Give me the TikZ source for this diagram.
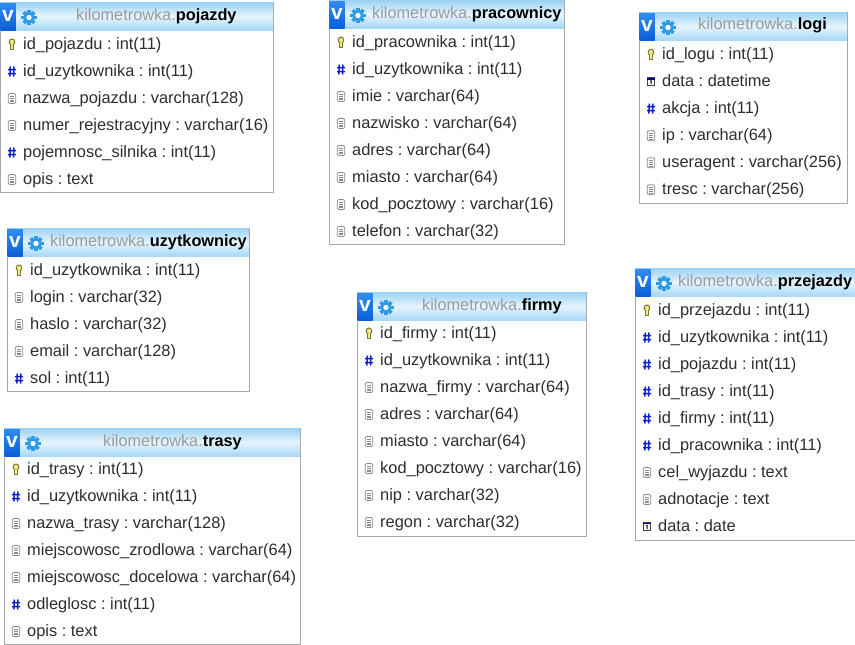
\documentclass[tikz,border=0pt]{standalone}
\usepackage{fontspec}
\setmainfont{Liberation Sans}
\frenchspacing
\definecolor{bordergray}{HTML}{A9A9A9}
\definecolor{titlegray}{HTML}{9C9C9C}
\definecolor{rowtext}{HTML}{2E2E2E}
\definecolor{hdrtop}{HTML}{9CD2F4}
\definecolor{hdrmid}{HTML}{E6F5FD}
\definecolor{hdrbot}{HTML}{A6D8F8}
\definecolor{vtop}{HTML}{2F8CF0}
\definecolor{vbot}{HTML}{0A5FD8}
\definecolor{gearblue}{HTML}{2E9BE6}
\definecolor{keyolive}{HTML}{7F7A2A}
\definecolor{keyfill}{HTML}{F0E68C}
\definecolor{hashblue}{HTML}{1020D0}
\definecolor{docgray}{HTML}{8A8A8A}
\tikzset{
  tablebox/.style={draw=bordergray,line width=1pt,fill=white},
  headerbar/.style={top color=hdrtop,bottom color=hdrbot,middle color=hdrmid},
  vbox/.style={top color=vtop,bottom color=vbot,draw=none},
  vlabel/.style={text=white,font=\fontsize{21}{21}\selectfont\bfseries,inner sep=0pt},
  titletext/.style={anchor=base west,inner sep=0pt,font=\fontsize{16.3}{16.3}\selectfont,text=titlegray},
  rowlabel/.style={anchor=base west,inner sep=0pt,font=\fontsize{16.4}{16.4}\selectfont,text=rowtext},
}
% icons, drawn around the current origin
\newcommand{\iconkey}{%
  \draw[keyolive,line width=1pt,fill=keyfill] (0,-2) ellipse (2.8 and 3);
  \fill[keyolive] (-1.8,0) rectangle (1.8,5.5);
  \fill[keyfill] (-.7,0) rectangle (.7,4.5);}
\newcommand{\iconhash}{%
  \draw[hashblue,line width=1.5pt] (-1.7,-4.5) -- (-2.1,5.5) (1.9,-4.5) -- (1.5,5.5)
    (-4,-1.5) -- (4,-1.5) (-4,2.5) -- (4,2.5);}
\newcommand{\icondoc}{%
  \draw[docgray,line width=.8pt,fill=white,rounded corners=2pt] (-3.8,-4.5) rectangle (3.8,5.5);
  \draw[docgray,line width=.7pt] (-2,-2) -- (2,-2) (-2,0) -- (2,0) (-2,2) -- (2,2) (-2,3.8) -- (2,3.8);}
\newcommand{\iconcal}{%
  \draw[black!75,line width=.9pt,fill=white] (-3.6,-3.4) rectangle (3.6,4.6);
  \fill[blue!60!black] (-3.6,-3.4) rectangle (3.6,-1.6);
  \draw[black,line width=1pt] (-.7,0) -- (.2,-.6) -- (.2,3);}
\newcommand{\icongear}{%
  \foreach \a in {0,45,...,315}{\fill[gearblue,rotate=\a] (-1.8,-7.6) rectangle (1.8,-4);}
  \fill[gearblue] (0,0) circle (5.6);
  \fill[white!70!hdrmid] (0,0) circle (2.7);}
% #1 name, #2 left, #3 top, #4 right, #5 bottom, #6 title x, #7 short name, #8 first row y, #9 rows
\newcommand{\dbtable}[9]{%
  \draw[tablebox] (#2-.5,#3) rectangle (#4+.3,#5);
  \path[headerbar] (#2,#3+.5) rectangle (#4-.2,#3+28);
  \path[vbox] (#2-.5,#3+1) rectangle (#2+14.5,#3+28);
  \node[vlabel] (#1v) at (#2+7,#3+14) {v};
  \begin{scope}[shift={(#2+28,#3+15.5)}]\icongear\end{scope}
  \node[titletext] (#1title) at (#6,#3+18) {kilometrowka.\textcolor{black}{\bfseries #7}};
  \foreach \ty/\tx [count=\i from 0] in {#9}{
    \begin{scope}[shift={(#2+11,#8+\i*27+.5)}]
      \csname icon\ty\endcsname
    \end{scope}
    \node[rowlabel] (#1row\i) at (#2+22,#8+\i*27+5.7) {\tx};
  }%
}
\begin{document}
\begin{tikzpicture}[x=1pt,y=-1pt]
\useasboundingbox (0,0) rectangle (855,645);
\dbtable{pojazdy}{1}{2}{273}{192}{76}{pojazdy}{43.5}{%
  key/{id\_pojazdu : int(11)},hash/{id\_uzytkownika : int(11)},doc/{nazwa\_pojazdu : varchar(128)},doc/{numer\_rejestracyjny : varchar(16)},hash/{pojemnosc\_silnika : int(11)},doc/{opis : text}}
\dbtable{pracownicy}{330}{0}{564}{244}{372}{pracownicy}{41.5}{%
  key/{id\_pracownika : int(11)},hash/{id\_uzytkownika : int(11)},doc/{imie : varchar(64)},doc/{nazwisko : varchar(64)},doc/{adres : varchar(64)},doc/{miasto : varchar(64)},doc/{kod\_pocztowy : varchar(16)},doc/{telefon : varchar(32)}}
\dbtable{logi}{640}{12}{847}{203}{698}{logi}{53.7}{%
  key/{id\_logu : int(11)},cal/{data : datetime},hash/{akcja : int(11)},doc/{ip : varchar(64)},doc/{useragent : varchar(256)},doc/{tresc : varchar(256)}}
\dbtable{uzytkownicy}{8}{228}{249}{391}{50}{uzytkownicy}{269.5}{%
  key/{id\_uzytkownika : int(11)},doc/{login : varchar(32)},doc/{haslo : varchar(32)},doc/{email : varchar(128)},hash/{sol : int(11)}}
\dbtable{firmy}{358}{292}{586}{536}{422}{firmy}{332.5}{%
  key/{id\_firmy : int(11)},hash/{id\_uzytkownika : int(11)},doc/{nazwa\_firmy : varchar(64)},doc/{adres : varchar(64)},doc/{miasto : varchar(64)},doc/{kod\_pocztowy : varchar(16)},doc/{nip : varchar(32)},doc/{regon : varchar(32)}}
\dbtable{przejazdy}{636}{268}{855}{540}{678}{przejazdy}{309.5}{%
  key/{id\_przejazdu : int(11)},hash/{id\_uzytkownika : int(11)},hash/{id\_pojazdu : int(11)},hash/{id\_trasy : int(11)},hash/{id\_firmy : int(11)},hash/{id\_pracownika : int(11)},doc/{cel\_wyjazdu : text},doc/{adnotacje : text},cal/{data : date}}
\dbtable{trasy}{5}{428}{300}{644}{103}{trasy}{468.5}{%
  key/{id\_trasy : int(11)},hash/{id\_uzytkownika : int(11)},doc/{nazwa\_trasy : varchar(128)},doc/{miejscowosc\_zrodlowa : varchar(64)},doc/{miejscowosc\_docelowa : varchar(64)},hash/{odleglosc : int(11)},doc/{opis : text}}
\end{tikzpicture}
\end{document}
